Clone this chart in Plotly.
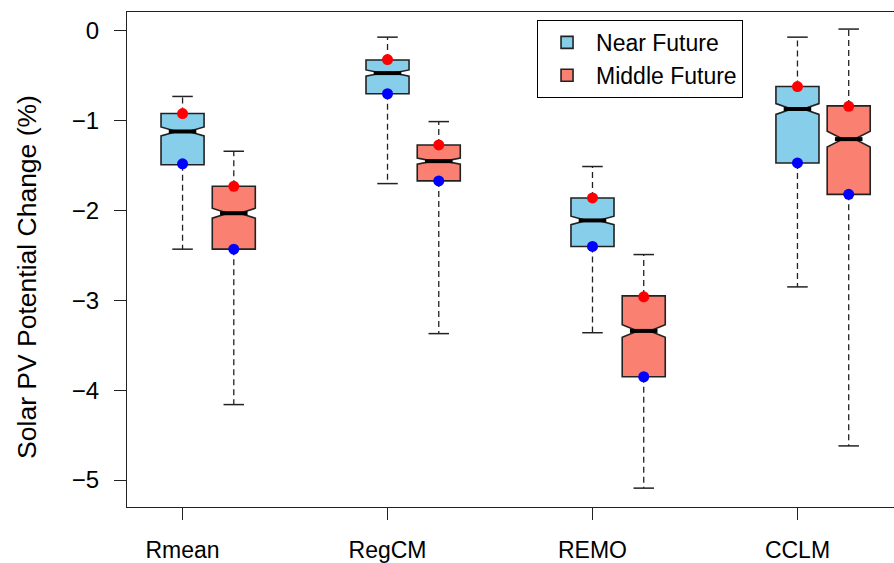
import plotly.graph_objects as go

models = ["Rmean", "RegCM", "REMO", "CCLM"]
group_pos = [1, 2, 3, 4]
y_ticks = [0, -1, -2, -3, -4, -5]

# Near Future
near_q1 = [-1.49, -0.70, -2.40, -1.47]
near_med = [-1.12, -0.47, -2.11, -0.87]
near_q3 = [-0.92, -0.325, -1.86, -0.62]
near_low = [-2.43, -1.70, -3.36, -2.85]
near_up = [-0.73, -0.07, -1.51, -0.07]
near_notch = [0.05, 0.035, 0.047, 0.06]

# Middle Future
mid_q1 = [-2.43, -1.67, -3.85, -1.82]
mid_med = [-2.03, -1.45, -3.34, -1.205]
mid_q3 = [-1.73, -1.27, -2.95, -0.835]
mid_low = [-4.16, -3.37, -5.09, -4.62]
mid_up = [-1.34, -1.01, -2.49, 0.02]
mid_notch = [0.055, 0.035, 0.07, 0.088]

# highlighted points
near_red = [-0.92, -0.32, -1.86, -0.62]
near_blue = [-1.48, -0.70, -2.40, -1.47]
mid_red = [-1.73, -1.27, -2.96, -0.84]
mid_blue = [-2.43, -1.67, -3.85, -1.82]

OFFSET = 0.25
BOX_W = 0.21
CAP_HW = 0.05
NOTCHW = 0.36
MED_HW = BOX_W / 2 * (1 - NOTCHW)

near_pos = [p for p in group_pos]
mid_pos = [p + OFFSET for p in group_pos]

fig = go.Figure()

def whiskers(pos, q1, q3, low, up):
    xd, yd, xc, yc = [], [], [], []
    for p, a, b, lo, hi in zip(pos, q1, q3, low, up):
        xd += [p, p, None, p, p, None]
        yd += [b, hi, None, a, lo, None]
        xc += [p - CAP_HW, p + CAP_HW, None, p - CAP_HW, p + CAP_HW, None]
        yc += [hi, hi, None, lo, lo, None]
    fig.add_trace(go.Scatter(x=xd, y=yd, mode="lines", showlegend=False, hoverinfo="skip",
                             line=dict(color="#222222", width=1.3, dash="6px,4px")))
    fig.add_trace(go.Scatter(x=xc, y=yc, mode="lines", showlegend=False, hoverinfo="skip",
                             line=dict(color="#222222", width=1.5)))

whiskers(near_pos, near_q1, near_q3, near_low, near_up)
whiskers(mid_pos, mid_q1, mid_q3, mid_low, mid_up)

def box(name, pos, q1, med, q3, notch, color):
    fig.add_trace(go.Box(
        name=name, x=pos, q1=q1, median=med, q3=q3,
        lowerfence=q1, upperfence=q3, notchspan=notch,
        notched=True, notchwidth=NOTCHW, width=BOX_W, whiskerwidth=0,
        fillcolor=color, line=dict(color="#222222", width=1.6),
        boxpoints=False, hoverinfo="skip"))

box("Near Future", near_pos, near_q1, near_med, near_q3, near_notch, "#87CEEB")
box("Middle Future", mid_pos, mid_q1, mid_med, mid_q3, mid_notch, "#FA8072")

def medians(pos, med):
    xs, ys = [], []
    for p, m in zip(pos, med):
        xs += [p - MED_HW, p + MED_HW, None]
        ys += [m, m, None]
    fig.add_trace(go.Scatter(x=xs, y=ys, mode="lines", showlegend=False, hoverinfo="skip",
                             line=dict(color="black", width=4)))

medians(near_pos, near_med)
medians(mid_pos, mid_med)

for pos, vals, col in [(near_pos, near_red, "#FF0000"), (mid_pos, mid_red, "#FF0000"),
                       (near_pos, near_blue, "#0000FF"), (mid_pos, mid_blue, "#0000FF")]:
    fig.add_trace(go.Scatter(x=pos, y=vals, mode="markers", showlegend=False, hoverinfo="skip",
                             marker=dict(color=col, size=11, line=dict(width=0))))

font = "Liberation Sans, Arial, sans-serif"
fig.update_layout(
    width=894, height=563,
    margin=dict(l=127, r=0, t=12, b=54),
    paper_bgcolor="white", plot_bgcolor="white",
    boxmode="overlay",
    font=dict(family=font, size=23, color="black"),
    showlegend=True,
    legend=dict(x=0.5346, y=0.984, xanchor="left", yanchor="top",
                bgcolor="white", bordercolor="black", borderwidth=1,
                itemwidth=48,
                font=dict(size=23, family=font, color="black")),
    xaxis=dict(range=[0.729, 4.471], tickmode="array", tickvals=group_pos, ticktext=models,
               ticks="outside", ticklen=12, tickwidth=1.2, tickcolor="#222222",
               ticklabelstandoff=10,
               showline=True, mirror=True, linecolor="#222222", linewidth=1.3,
               showgrid=False, zeroline=False,
               tickfont=dict(size=23, family=font, color="black")),
    yaxis=dict(range=[-5.30, 0.21], tickmode="array", tickvals=y_ticks,
               ticks="outside", ticklen=12, tickwidth=1.2, tickcolor="#222222",
               ticklabelstandoff=10,
               showline=True, mirror=False, linecolor="#222222", linewidth=1.3,
               showgrid=False, zeroline=False,
               tickfont=dict(size=24, family=font, color="black")),
    annotations=[dict(text="Solar PV Potential Change (%)", textangle=-90,
                      xref="paper", yref="paper", x=-0.1304, y=0.4648,
                      xanchor="center", yanchor="middle", showarrow=False,
                      font=dict(size=26.5, family=font, color="black"))],
)

fig.write_html("out.html")
